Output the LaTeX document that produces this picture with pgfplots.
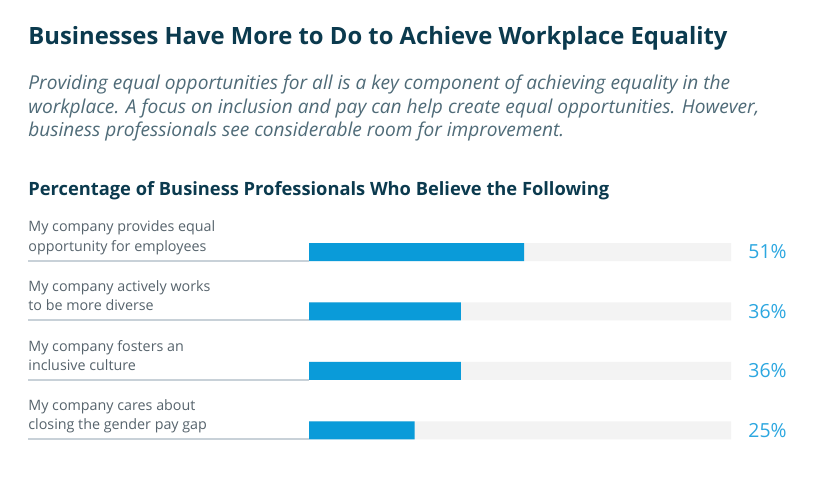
\documentclass[border=0pt]{standalone}
\usepackage{fontspec}
\setmainfont{Open Sans}
\usepackage{pgfplots}
\pgfplotsset{compat=1.18}

\definecolor{titleC}{HTML}{0B3A4E}
\definecolor{subC}{HTML}{4F6B78}
\definecolor{labelC}{HTML}{56636C}
\definecolor{barC}{HTML}{0A9BD9}
\definecolor{trackC}{HTML}{F3F3F3}
\definecolor{pctC}{HTML}{2CA7E0}
\definecolor{ruleC}{HTML}{C8D1D8}

\begin{document}
\begin{tikzpicture}
% canvas in px: 1px = 0.5pt, y downwards
\begin{scope}[x=0.5pt,y=-0.5pt]
  \path[fill=white] (0,0) rectangle (820,481);
  \node[anchor=base west, inner sep=0, text=titleC, font=\bfseries\fontsize{11.9}{14}\selectfont]
    at (28,45) {Businesses Have More to Do to Achieve Workplace Equality};
  \begin{scope}[every node/.style={anchor=base west, inner sep=0, text=subC, font=\itshape\fontsize{9.55}{11}\selectfont}]
    \node at (28,90) {Providing equal opportunities for all is a key component of achieving equality in the};
    \node at (28,113.5) {workplace. A focus on inclusion and pay can help create equal opportunities. However,};
    \node at (28,137) {business professionals see considerable room for improvement.};
  \end{scope}
  \node[anchor=base west, inner sep=0, text=titleC, font=\bfseries\fontsize{9.15}{11}\selectfont]
    at (28,195.5) {Percentage of Business Professionals Who Believe the Following};
  \begin{scope}[every node/.style={anchor=base west, inner sep=0, text=labelC, font=\fontsize{7.15}{9}\selectfont}]
    \node at (28,232) {My company provides equal};
    \node at (28,251) {opportunity for employees};
    \node at (28,291.5) {My company actively works};
    \node at (28,310.5) {to be more diverse};
    \node at (28,351) {My company fosters an};
    \node at (28,370) {inclusive culture};
    \node at (28,410.5) {My company cares about};
    \node at (28,429.5) {closing the gender pay gap};
  \end{scope}
  \foreach \y in {260.5,320,379.5,439}
    \draw[ruleC, line width=1pt] (28,\y) -- (309,\y);
\end{scope}

\begin{axis}[
    at={(154.5pt,-111.125pt)},
    anchor=north west,
    scale only axis,
    width=211pt,
    height=119pt,
    xbar,
    bar width=9pt,
    bar shift=0pt,
    xmin=0, xmax=100,
    ymin=-0.5, ymax=3.5,
    y dir=reverse,
    hide axis,
    clip=false,
    /pgf/number format/assume math mode=true,
]
% grey track (100%) carrying the value labels
\addplot[fill=trackC, draw=none, point meta=explicit,
    nodes near coords={\pgfmathprintnumber{\pgfplotspointmeta}\%},
    every node near coord/.append style={anchor=west, inner sep=0pt, xshift=8.5pt,
        text=pctC, font=\fontsize{9.7}{11}\selectfont}]
  coordinates {(100,0) [51] (100,1) [36] (100,2) [36] (100,3) [25]};
% share of business professionals
\addplot[fill=barC, draw=none]
  coordinates {(51,0) (36,1) (36,2) (25,3)};
\end{axis}
\end{tikzpicture}
\end{document}
